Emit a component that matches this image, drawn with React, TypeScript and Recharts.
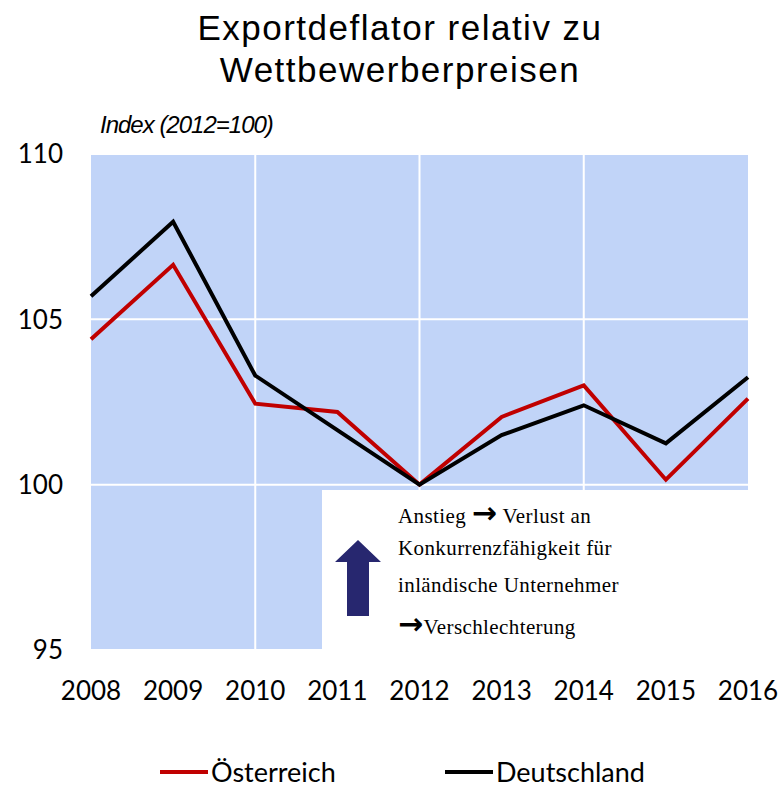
import { LineChart, Line, XAxis, YAxis, CartesianGrid, ReferenceLine } from "recharts";

const years = [2008, 2009, 2010, 2011, 2012, 2013, 2014, 2015, 2016];
const oesterreich = [104.4, 106.65, 102.45, 102.2, 100, 102.05, 103.0, 100.15, 102.6];
const deutschland = [105.7, 107.95, 103.3, 101.65, 100, 101.5, 102.4, 101.25, 103.25];
const yTicks = [95, 100, 105, 110];
const gridYears = [2010, 2012, 2014];
const seriesNames = ["Österreich", "Deutschland"];
const seriesColors = ["#C00000", "#000000"];
// each note line: [arrow before text, text, arrow in the middle + rest]
const noteLines: [string, string, string][] = [
  ["", "Anstieg ", " Verlust an"],
  ["", "Konkurrenzfähigkeit für", ""],
  ["", "inländische Unternehmer", ""],
  ["\u2192", "Verschlechterung", ""],
];

const data = years.map((y, i) => ({ year: y, at: oesterreich[i], de: deutschland[i] }));

const axisFont = "Lato, 'Open Sans', sans-serif";

function Arrow() {
  return (
    <span style={{ fontFamily: "'DejaVu Sans', sans-serif", fontWeight: "bold", fontSize: 30, lineHeight: "20px" }}>
      {"\u2192"}
    </span>
  );
}

export default function App() {
  return (
    <div style={{ position: "absolute", left: 0, top: 0, width: 779, height: 788, background: "#fff", overflow: "hidden" }}>
      <div
        style={{
          position: "absolute",
          top: 7,
          left: 0,
          width: 800,
          textAlign: "center",
          fontFamily: "'Liberation Sans', Arial, sans-serif",
          fontSize: 35,
          letterSpacing: 1.5,
          lineHeight: "42px",
          color: "#000",
        }}
      >
        Exportdeflator relativ zu
        <br />
        Wettbewerberpreisen
      </div>
      <div
        style={{
          position: "absolute",
          top: 111,
          left: 100,
          fontFamily: "'Liberation Sans', Arial, sans-serif",
          fontStyle: "italic",
          fontSize: 24,
          letterSpacing: -1,
          color: "#000",
        }}
      >
        Index (2012=100)
      </div>
      <LineChart width={779} height={788} data={data} margin={{ top: 154, right: 31, bottom: 78, left: 0 }}>
        <CartesianGrid vertical={false} fill="#C1D4F8" stroke="#ffffff" strokeWidth={2} />
        {gridYears.map((g) => (
          <ReferenceLine key={g} x={g} stroke="#ffffff" strokeWidth={2} />
        ))}
        <XAxis
          dataKey="year"
          type="number"
          domain={[2008, 2016]}
          ticks={years}
          axisLine={false}
          tickLine={false}
          tickMargin={26}
          height={60}
          tick={{ fontSize: 26, fill: "#000", fontFamily: axisFont }}
        />
        <YAxis
          domain={[95, 110]}
          ticks={yTicks}
          axisLine={false}
          tickLine={false}
          tickMargin={22}
          width={91}
          tick={{ fontSize: 26, fill: "#000", fontFamily: axisFont }}
        />
        <Line dataKey="at" name={seriesNames[0]} stroke={seriesColors[0]} strokeWidth={4} dot={false} isAnimationActive={false} />
        <Line dataKey="de" name={seriesNames[1]} stroke={seriesColors[1]} strokeWidth={4} dot={false} isAnimationActive={false} />
      </LineChart>
      <div style={{ position: "absolute", left: 322, top: 490, width: 430, height: 162, background: "#fff" }}>
        <svg width={46} height={76} style={{ position: "absolute", left: 13, top: 50 }}>
          <polygon points="23,0 46,22 34,22 34,76 12,76 12,22 0,22" fill="#27276F" />
        </svg>
        {noteLines.map(([pre, t, post], i) => (
          <div
            key={i}
            style={{
              position: "absolute",
              left: 76,
              top: [13, 46, 83, 124][i],
              fontFamily: "'Liberation Serif', 'DejaVu Serif', serif",
              fontSize: 21,
              letterSpacing: 0.4,
              whiteSpace: "nowrap",
              color: "#000",
            }}
          >
            {pre && <Arrow />}
            {t}
            {post && <Arrow />}
            {post}
          </div>
        ))}
      </div>
      <div style={{ position: "absolute", top: 758, left: 0, width: 779, height: 28, fontFamily: axisFont, fontSize: 27, lineHeight: "28px", color: "#000" }}>
        {seriesNames.map((n, i) => (
          <div key={n} style={{ position: "absolute", left: [160, 445][i], top: 0, height: 28, display: "flex", alignItems: "center" }}>
            <span style={{ display: "inline-block", width: 48, height: 4, background: seriesColors[i], marginRight: 3 }} />
            <span style={{ lineHeight: "28px" }}>{n}</span>
          </div>
        ))}
      </div>
    </div>
  );
}
